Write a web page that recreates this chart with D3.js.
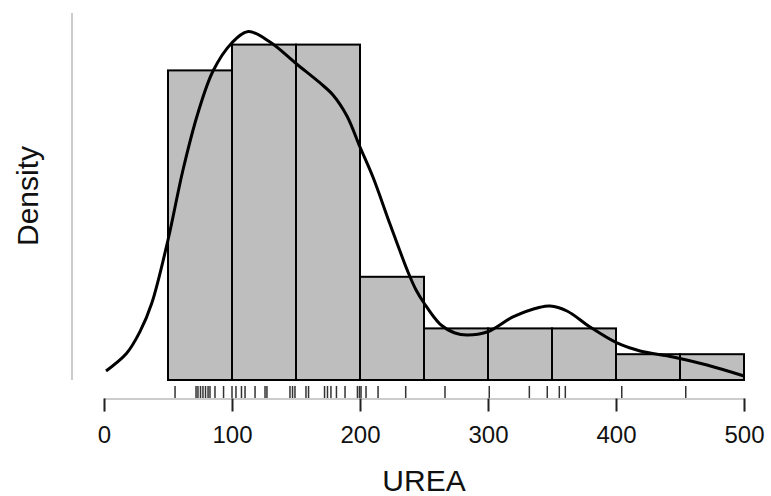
<!DOCTYPE html>
<html>
<head>
<meta charset="utf-8">
<script src="https://cdn.jsdelivr.net/npm/d3@7"></script>
<style>
  html, body { margin: 0; padding: 0; background: #fff; }
  svg { display: block; font-family: "Liberation Sans", Arial, sans-serif; }
</style>
</head>
<body>
<svg id="chart" width="771" height="496"></svg>
<script>
// Histogram of UREA (bin width 50) with kernel density and rug
const binEdges = [50, 100, 150, 200, 250, 300, 350, 400, 450, 500];
const binCounts = [12, 13, 13, 4, 2, 2, 2, 1, 1];
const nObs = 50;

const rugValues = [55.5, 71.9, 73.4, 75.4, 77.3, 79.3, 81.3, 82.8, 86.7, 93.4,
  100, 103.1, 107.4, 110.2, 118, 125.8, 127.3, 145.3, 147.3, 149.2,
  157.8, 159.8, 172.3, 174.6, 177.3, 181.6, 188.3, 198, 199.6, 200.8,
  204.7, 214.1, 235.7, 266.4, 301, 332.3, 346.3, 355.7, 360.4, 404.5, 454.5];

const densityX = [1.6, 17.7, 28.1, 37.3, 50, 61.7, 73.4, 85.2, 99.8, 112.7,
  129.7, 150.5, 168.8, 178.9, 189.8, 200, 210.4, 223.4, 237.5, 243.8,
  250, 262.5, 274.2, 283.6, 299.2, 319.5, 340.6, 348.4, 361.7, 379.7,
  400.8, 418.8, 444.5, 471.1, 500];
const densityY = [0.000140, 0.000414, 0.000749, 0.001189, 0.002171, 0.003256, 0.004140, 0.004791, 0.005225, 0.005403,
  0.005240, 0.004899, 0.004605, 0.004419, 0.004093, 0.003612, 0.003132, 0.002419, 0.001674, 0.001395,
  0.001194, 0.000868, 0.000729, 0.000698, 0.000744, 0.000977, 0.001127, 0.001147, 0.001070, 0.000822,
  0.000574, 0.000450, 0.000357, 0.000233, 0.000062];

const xTicks = [0, 100, 200, 300, 400, 500];

const svg = d3.select("#chart");

const x = d3.scaleLinear().domain([0, 500]).range([104, 744]);
const y = d3.scaleLinear().domain([0, 0.006]).range([380, 380 - 0.006 * 64500]);

// Histogram bars (density scale)
const bars = binCounts.map((c, i) => ({
  x0: binEdges[i], x1: binEdges[i + 1],
  d: c / (nObs * (binEdges[i + 1] - binEdges[i]))
}));

svg.append("g").selectAll("rect")
  .data(bars)
  .join("rect")
  .attr("x", d => x(d.x0))
  .attr("y", d => y(d.d))
  .attr("width", d => x(d.x1) - x(d.x0))
  .attr("height", d => y(0) - y(d.d))
  .attr("fill", "#bebebe")
  .attr("stroke", "#000")
  .attr("stroke-width", 2);

// Density curve
const pts = densityX.map((v, i) => [v, densityY[i]]);
svg.append("path")
  .datum(pts)
  .attr("fill", "none")
  .attr("stroke", "#000")
  .attr("stroke-width", 3)
  .attr("stroke-linejoin", "round")
  .attr("d", d3.line().x(d => x(d[0])).y(d => y(d[1])).curve(d3.curveCatmullRom.alpha(0.5)));

// Y axis line (no ticks)
svg.append("line")
  .attr("x1", 72).attr("x2", 72)
  .attr("y1", 13).attr("y2", 380)
  .attr("stroke", "#aaa")
  .attr("stroke-width", 1.2);

// Rug
svg.append("g").selectAll("line")
  .data(rugValues)
  .join("line")
  .attr("x1", d => x(d)).attr("x2", d => x(d))
  .attr("y1", 386).attr("y2", 398)
  .attr("stroke", "#333")
  .attr("stroke-width", 1.5);

// X axis
const axisG = svg.append("g").attr("transform", "translate(0,398.5)");
axisG.call(d3.axisBottom(x).tickValues(xTicks).tickSize(13).tickPadding(14).tickFormat(d3.format("d")));
axisG.select(".domain").attr("stroke", "#999").attr("stroke-width", 1.2);
axisG.selectAll(".tick line").attr("stroke", "#222").attr("stroke-width", 2);
axisG.selectAll(".tick text")
  .attr("fill", "#111")
  .style("font-size", "24px")
  .style("font-family", "'Liberation Sans', Arial, sans-serif");

// Axis titles
svg.append("text")
  .attr("x", x(250)).attr("y", 491)
  .attr("text-anchor", "middle")
  .attr("fill", "#111")
  .style("font-size", "30px")
  .text("UREA");

svg.append("text")
  .attr("transform", "translate(38,196) rotate(-90)")
  .attr("text-anchor", "middle")
  .attr("fill", "#111")
  .style("font-size", "30px")
  .text("Density");
</script>
</body>
</html>
